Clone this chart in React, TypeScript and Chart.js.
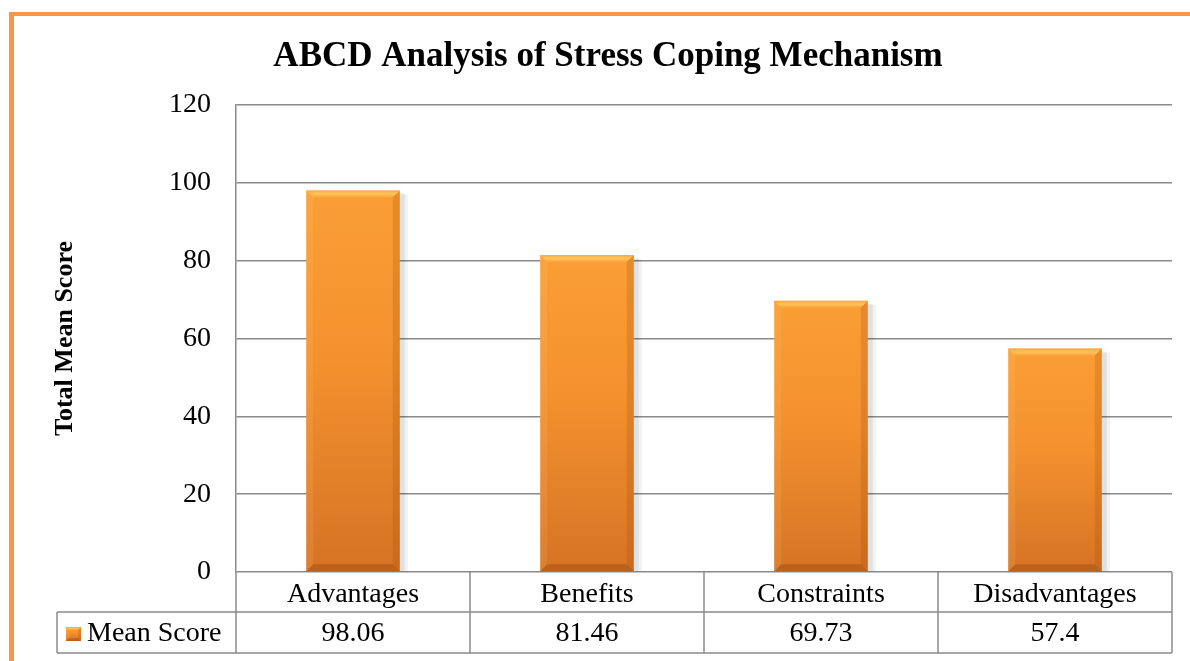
import React, { useEffect, useRef } from "react";
import { Chart, registerables } from "chart.js";

Chart.register(...registerables);

const chartTitle = "ABCD Analysis of Stress Coping Mechanism";
const categories = ["Advantages", "Benefits", "Constraints", "Disadvantages"];
const seriesName = "Mean Score";
const meanScores = [98.06, 81.46, 69.73, 57.4];
const yTickValues = [0, 20, 40, 60, 80, 100, 120];
const yAxisTitle = "Total Mean Score";

const SERIF = "'Liberation Serif', 'Times New Roman', serif";
const GRID = "#8a8a8a";
const FRAME = "#F79646";

function barGradient(ctx: CanvasRenderingContext2D, top: number, bottom: number) {
  const g = ctx.createLinearGradient(0, top, 0, bottom);
  g.addColorStop(0, "#FB9E35");
  g.addColorStop(0.45, "#F3912E");
  g.addColorStop(1, "#D67325");
  return g;
}

function drawBevel(ctx: CanvasRenderingContext2D, left: number, top: number, right: number, bottom: number, b: number) {
  const poly = (pts: number[][], fill: any) => {
    ctx.beginPath();
    ctx.moveTo(pts[0][0], pts[0][1]);
    for (let i = 1; i < pts.length; i++) ctx.lineTo(pts[i][0], pts[i][1]);
    ctx.closePath();
    ctx.fillStyle = fill;
    ctx.fill();
  };
  const tg = ctx.createLinearGradient(0, top, 0, top + b);
  tg.addColorStop(0, "rgba(255,170,60,0.6)");
  tg.addColorStop(0.5, "rgba(255,225,120,0.6)");
  tg.addColorStop(1, "rgba(255,200,90,0.2)");
  poly([[left, top], [right, top], [right - b, top + b], [left + b, top + b]], tg);
  poly([[left, top], [left + b, top + b], [left + b, bottom - b], [left, bottom]], "rgba(255,215,150,0.12)");
  poly([[right, top], [right, bottom], [right - b, bottom - b], [right - b, top + b]], "rgba(150,70,0,0.2)");
  poly([[left, bottom], [left + b, bottom - b], [right - b, bottom - b], [right, bottom]], "rgba(120,50,0,0.28)");
}

const framePlugin = {
  id: "frame",
  beforeDraw(chart: any) {
    const { ctx, width, height } = chart;
    ctx.save();
    ctx.fillStyle = FRAME;
    ctx.fillRect(9, 12, 5, height - 12);
    ctx.fillRect(9, 12, width - 9, 4);
    ctx.restore();
  },
};

const titlePlugin = {
  id: "customTitle",
  afterDraw(chart: any) {
    const { ctx } = chart;
    ctx.save();
    ctx.font = `bold 35px ${SERIF}`;
    ctx.fillStyle = "#000";
    ctx.textAlign = "center";
    ctx.textBaseline = "middle";
    ctx.fillText(chartTitle, 608, 57);
    ctx.restore();
  },
};

const bevelPlugin = {
  id: "bevel",
  beforeDatasetsDraw(chart: any) {
    const { ctx } = chart;
    const meta = chart.getDatasetMeta(0);
    ctx.save();
    meta.data.forEach((el: any) => {
      const { x, y, base, width } = el.getProps(["x", "y", "base", "width"], true);
      ctx.fillStyle = "rgba(0,0,0,0.07)";
      ctx.fillRect(x - width / 2 + 2, y + 3, width + 3, base - y - 3);
      ctx.fillStyle = "rgba(0,0,0,0.05)";
      ctx.fillRect(x - width / 2 + 3, y + 4, width + 5, base - y - 4);
    });
    ctx.restore();
  },
  afterDatasetsDraw(chart: any) {
    const { ctx } = chart;
    const meta = chart.getDatasetMeta(0);
    ctx.save();
    meta.data.forEach((el: any) => {
      const { x, y, base, width } = el.getProps(["x", "y", "base", "width"], true);
      drawBevel(ctx, x - width / 2, y, x + width / 2, base, 7);
    });
    ctx.restore();
  },
};

const tablePlugin = {
  id: "dataTable",
  afterDraw(chart: any) {
    const { ctx, chartArea: ca, scales } = chart;
    const xs = scales.x;
    const n = categories.length;
    const colW = (ca.right - ca.left) / n;
    const row1 = ca.bottom;
    const row2 = ca.bottom + 40;
    const row3 = ca.bottom + 81;
    const legendLeft = 57;
    ctx.save();
    ctx.strokeStyle = GRID;
    ctx.lineWidth = 1.5;
    ctx.beginPath();
    ctx.moveTo(legendLeft, row2);
    ctx.lineTo(ca.right, row2);
    ctx.moveTo(legendLeft, row3);
    ctx.lineTo(ca.right, row3);
    for (let i = 0; i <= n; i++) {
      const xb = ca.left + i * colW;
      ctx.moveTo(xb, row1);
      ctx.lineTo(xb, row3);
    }
    ctx.moveTo(legendLeft, row2);
    ctx.lineTo(legendLeft, row3);
    ctx.stroke();

    // legend swatch
    const sx = 66, sy = 627, sw = 15, sh = 14;
    ctx.fillStyle = barGradient(ctx, sy, sy + sh);
    ctx.fillRect(sx, sy, sw, sh);
    drawBevel(ctx, sx, sy, sx + sw, sy + sh, 3);

    ctx.fillStyle = "#000";
    ctx.font = `28px ${SERIF}`;
    ctx.textBaseline = "middle";
    ctx.textAlign = "left";
    const midY = (row2 + row3) / 2 + 1;
    ctx.fillText(seriesName, 87, midY);
    ctx.textAlign = "center";
    meanScores.forEach((v, i) => {
      ctx.fillText(String(v), xs.getPixelForValue(i), midY);
    });
    ctx.restore();
  },
};

export default function App() {
  const ref = useRef<HTMLCanvasElement | null>(null);
  useEffect(() => {
    if (!ref.current) return;
    const chart = new Chart(ref.current, {
      type: "bar",
      data: {
        labels: categories,
        datasets: [
          {
            label: seriesName,
            data: meanScores,
            backgroundColor: (c: any) => {
              const chart = c.chart;
              if (!chart.chartArea || c.type !== "data") return "#F3912E";
              const ys = chart.scales.y;
              const top = ys.getPixelForValue(c.raw as number);
              const bottom = ys.getPixelForValue(0);
              return barGradient(chart.ctx, top, bottom);
            },
            borderWidth: 0,
            categoryPercentage: 1,
            barPercentage: 0.4,
          },
        ],
      },
      options: {
        responsive: false,
        animation: false,
        devicePixelRatio: 1,
        layout: { padding: { left: 0, right: 18, top: 105, bottom: 0 } },
        plugins: {
          legend: { display: false },
          title: { display: false },
          tooltip: { enabled: false },
        },
        scales: {
          y: {
            min: 0,
            max: 120,
            afterBuildTicks: (scale: any) => {
              scale.ticks = yTickValues.map((v) => ({ value: v }));
            },
            afterFit: (scale: any) => {
              scale.width = 236;
            },
            ticks: {
              font: { family: SERIF, size: 28 },
              color: "#000",
              padding: 25,
            },
            grid: { color: GRID, lineWidth: 1.5, drawTicks: false },
            border: { display: true, color: GRID, width: 1.5 },
            title: {
              display: true,
              text: yAxisTitle,
              font: { family: SERIF, size: 26, weight: "bold" },
              color: "#000",
              padding: { top: 50, bottom: 0 },
            },
          },
          x: {
            afterFit: (scale: any) => {
              scale.height = 89;
            },
            ticks: {
              font: { family: SERIF, size: 28 },
              color: "#000",
              padding: 6,
              maxRotation: 0,
              autoSkip: false,
            },
            grid: { display: false, drawTicks: false },
            border: { display: false },
          },
        },
      },
      plugins: [framePlugin, titlePlugin, bevelPlugin, tablePlugin],
    });
    return () => chart.destroy();
  }, []);
  return (
    <div style={{ position: "absolute", left: 0, top: 0, width: 1190, height: 661, background: "#fff" }}>
      <canvas ref={ref} width={1190} height={661} style={{ display: "block" }} />
    </div>
  );
}
